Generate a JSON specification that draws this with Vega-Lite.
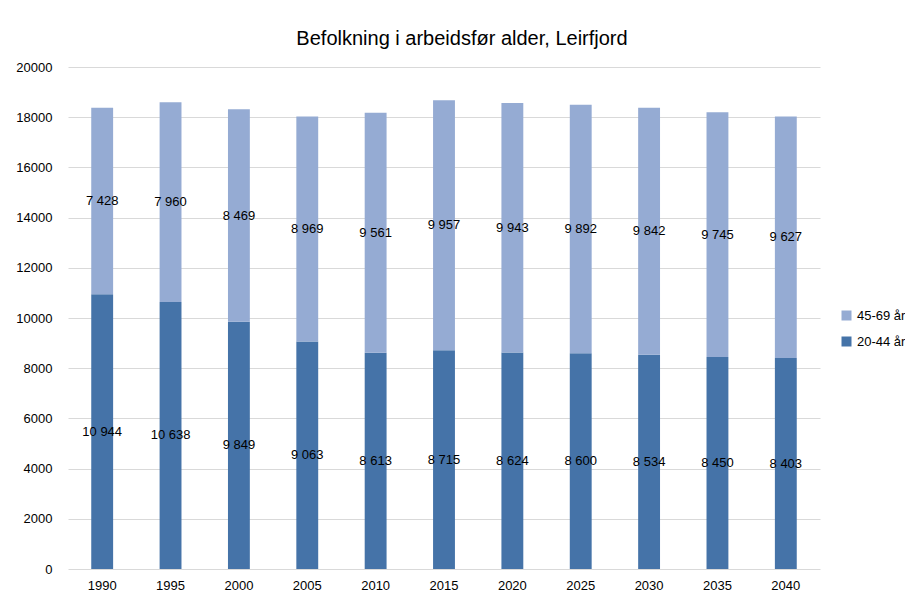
{
  "$schema": "https://vega.github.io/schema/vega-lite/v6.json",
  "width": 752,
  "height": 502,
  "autosize": {"type": "none"},
  "padding": {"left": 68, "top": 67, "right": 85, "bottom": 27},
  "background": "white",
  "config": {
    "font": "Liberation Sans",
    "view": {"stroke": null},
    "locale": {"number": {"decimal": ",", "thousands": " ", "grouping": [3], "currency": ["", " kr"]}}
  },
  "title": {
    "text": "Befolkning i arbeidsfør alder, Leirfjord",
    "anchor": "middle",
    "frame": "group",
    "dx": 18,
    "offset": 12,
    "fontSize": 20,
    "fontWeight": "normal",
    "color": "#000000"
  },
  "data": {
    "values": [
      {"year": "1990", "group": "20-44 år", "value": 10944},
      {"year": "1990", "group": "45-69 år", "value": 7428},
      {"year": "1995", "group": "20-44 år", "value": 10638},
      {"year": "1995", "group": "45-69 år", "value": 7960},
      {"year": "2000", "group": "20-44 år", "value": 9849},
      {"year": "2000", "group": "45-69 år", "value": 8469},
      {"year": "2005", "group": "20-44 år", "value": 9063},
      {"year": "2005", "group": "45-69 år", "value": 8969},
      {"year": "2010", "group": "20-44 år", "value": 8613},
      {"year": "2010", "group": "45-69 år", "value": 9561},
      {"year": "2015", "group": "20-44 år", "value": 8715},
      {"year": "2015", "group": "45-69 år", "value": 9957},
      {"year": "2020", "group": "20-44 år", "value": 8624},
      {"year": "2020", "group": "45-69 år", "value": 9943},
      {"year": "2025", "group": "20-44 år", "value": 8600},
      {"year": "2025", "group": "45-69 år", "value": 9892},
      {"year": "2030", "group": "20-44 år", "value": 8534},
      {"year": "2030", "group": "45-69 år", "value": 9842},
      {"year": "2035", "group": "20-44 år", "value": 8450},
      {"year": "2035", "group": "45-69 år", "value": 9745},
      {"year": "2040", "group": "20-44 år", "value": 8403},
      {"year": "2040", "group": "45-69 år", "value": 9627}
    ]
  },
  "encoding": {
    "x": {
      "field": "year",
      "type": "ordinal",
      "title": null,
      "scale": {"paddingInner": 0.68, "paddingOuter": 0.34},
      "axis": {
        "labelAngle": 0,
        "labelFontSize": 13,
        "labelColor": "#000000",
        "labelPadding": 10,
        "ticks": false,
        "domain": false
      }
    }
  },
  "layer": [
    {
      "mark": {"type": "bar"},
      "encoding": {
        "y": {
          "field": "value",
          "type": "quantitative",
          "stack": "zero",
          "title": null,
          "scale": {"domain": [0, 20000]},
          "axis": {
            "values": [0, 2000, 4000, 6000, 8000, 10000, 12000, 14000, 16000, 18000, 20000],
            "format": "d",
            "labelFontSize": 13,
            "labelColor": "#000000",
            "labelPadding": 16,
            "ticks": false,
            "domain": false,
            "gridColor": "#d9d9d9",
            "gridWidth": 1
          }
        },
        "order": {"field": "group", "type": "nominal", "sort": "ascending"},
        "color": {
          "field": "group",
          "type": "nominal",
          "title": null,
          "scale": {"domain": ["45-69 år", "20-44 år"], "range": ["#95abd3", "#4573a8"]},
          "legend": {
            "orient": "none",
            "legendX": 772,
            "legendY": 242,
            "symbolType": "square",
            "symbolSize": 100,
            "symbolStrokeWidth": 0,
            "labelFontSize": 13,
            "labelColor": "#000000",
            "rowPadding": 12
          }
        }
      }
    },
    {
      "mark": {"type": "text", "fontSize": 13, "color": "#000000", "baseline": "middle"},
      "encoding": {
        "y": {"field": "value", "type": "quantitative", "stack": "zero", "bandPosition": 0.5},
        "detail": {"field": "group", "type": "nominal"},
        "order": {"field": "group", "type": "nominal", "sort": "ascending"},
        "text": {"field": "value", "type": "quantitative", "format": ",d"}
      }
    }
  ]
}
